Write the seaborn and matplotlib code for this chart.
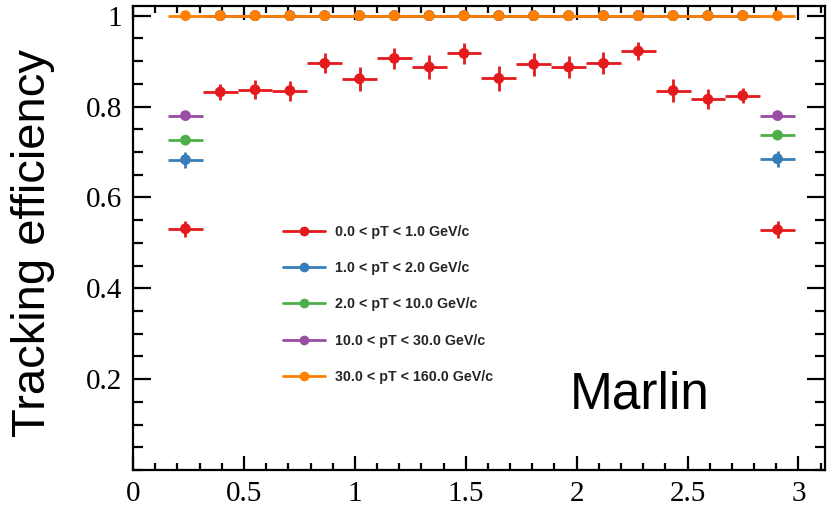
import numpy as np
import pandas as pd
import matplotlib
matplotlib.use("Agg")
import matplotlib.pyplot as plt
import seaborn as sns
from matplotlib.ticker import MultipleLocator, FixedLocator, FixedFormatter
from matplotlib.lines import Line2D

# ---- data ----
theta_centers = [0.236, 0.393, 0.550, 0.707, 0.864, 1.021, 1.178, 1.335, 1.492,
                 1.649, 1.806, 1.964, 2.121, 2.278, 2.435, 2.592, 2.749, 2.906]
theta_halfwidth = 0.0785

eff_pt_0_1 = [0.531, 0.832, 0.837, 0.835, 0.895, 0.861, 0.906, 0.887, 0.917,
              0.862, 0.893, 0.887, 0.895, 0.922, 0.835, 0.816, 0.824, 0.529]
err_pt_0_1 = [0.018, 0.018, 0.021, 0.022, 0.022, 0.027, 0.023, 0.026, 0.023,
              0.027, 0.025, 0.025, 0.024, 0.019, 0.025, 0.022, 0.016, 0.019]

eff_pt_1_2 = [0.683] + [1.0] * 16 + [0.685]
err_pt_1_2 = [0.018] + [0.0] * 16 + [0.018]

eff_pt_2_10 = [0.726] + [1.0] * 16 + [0.737]
err_pt_2_10 = [0.006] + [0.0] * 16 + [0.006]

eff_pt_10_30 = [0.780] + [1.0] * 16 + [0.780]
err_pt_10_30 = [0.005] + [0.0] * 16 + [0.005]

eff_pt_30_160 = [1.0] * 18
err_pt_30_160 = [0.0] * 18

labels = ["0.0 < pT < 1.0 GeV/c", "1.0 < pT < 2.0 GeV/c", "2.0 < pT < 10.0 GeV/c",
          "10.0 < pT < 30.0 GeV/c", "30.0 < pT < 160.0 GeV/c"]
colors = ["#e41a1c", "#377eb8", "#4daf4a", "#984ea3", "#ff7f00"]

x_ticks = [0, 0.5, 1, 1.5, 2, 2.5, 3]
x_ticklabels = ["0", "0.5", "1", "1.5", "2", "2.5", "3"]
y_ticks = [0.2, 0.4, 0.6, 0.8, 1.0]
y_ticklabels = ["0.2", "0.4", "0.6", "0.8", "1"]

effs = [eff_pt_0_1, eff_pt_1_2, eff_pt_2_10, eff_pt_10_30, eff_pt_30_160]
errs = [err_pt_0_1, err_pt_1_2, err_pt_2_10, err_pt_10_30, err_pt_30_160]

rows = []
for lab, e, er in zip(labels, effs, errs):
    for x, v, ev in zip(theta_centers, e, er):
        rows.append({"theta": x, "eff": v, "err": ev, "series": lab})
df = pd.DataFrame(rows)

sns.set_theme(style="white")
plt.rcParams["font.family"] = ["Liberation Sans", "DejaVu Sans"]

fig = plt.figure(figsize=(8.32, 5.09), dpi=100)
ax = fig.add_axes([0.160, 0.0766, 0.8316, 0.9114])

for lab, col in zip(labels, colors):
    sub = df[df["series"] == lab]
    ax.errorbar(sub["theta"], sub["eff"], xerr=theta_halfwidth, yerr=sub["err"],
                fmt="none", ecolor=col, elinewidth=2.0, capsize=0, zorder=2)

sns.scatterplot(data=df, x="theta", y="eff", hue="series", hue_order=labels,
                palette=colors, s=60, edgecolor="none", legend=False, ax=ax, zorder=3)

leg_handles = [Line2D([0], [0], color=c, lw=2.0, marker="o", markersize=7,
                      markeredgewidth=0) for c in colors]
fig.legend(leg_handles, labels, loc="upper left",
           bbox_to_anchor=(283 / 832, 1 - 225 / 509), frameon=False,
           borderpad=0, borderaxespad=0, handlelength=2.95, handletextpad=0.7,
           labelspacing=1.55,
           prop={"family": "Liberation Sans", "weight": "bold", "size": 10.3})

ax.text(1.97, 0.136, "Marlin", fontsize=37, family="Liberation Sans", color="black",
        ha="left", va="baseline")

ax.set_xlim(0, 3.12)
ax.set_ylim(0, 1.021)
ax.xaxis.set_major_locator(FixedLocator(x_ticks))
ax.xaxis.set_major_formatter(FixedFormatter(x_ticklabels))
ax.xaxis.set_minor_locator(MultipleLocator(0.1))
ax.yaxis.set_major_locator(FixedLocator(y_ticks))
ax.yaxis.set_major_formatter(FixedFormatter(y_ticklabels))
ax.yaxis.set_minor_locator(MultipleLocator(0.05))

for sp in ax.spines.values():
    sp.set_visible(True)
    sp.set_color("black")
    sp.set_linewidth(1.6)

ax.tick_params(axis="both", which="both", direction="in", color="black",
               top=True, right=True, bottom=True, left=True, width=1.6)
ax.tick_params(axis="x", which="major", length=10, pad=8)
ax.tick_params(axis="x", which="minor", length=5)
ax.tick_params(axis="y", which="major", length=13, pad=8)
ax.tick_params(axis="y", which="minor", length=7)
for t in ax.get_xticklabels() + ax.get_yticklabels():
    t.set_fontfamily("Liberation Serif")
    t.set_fontsize(21)
    t.set_color("black")

ax.set_xlabel("")
ax.set_ylabel("Tracking efficiency", fontsize=34, family="Liberation Sans", color="black")
ax.yaxis.set_label_coords(-0.113, 0.489)
ax.grid(False)

fig.savefig("out.png", dpi=100)
